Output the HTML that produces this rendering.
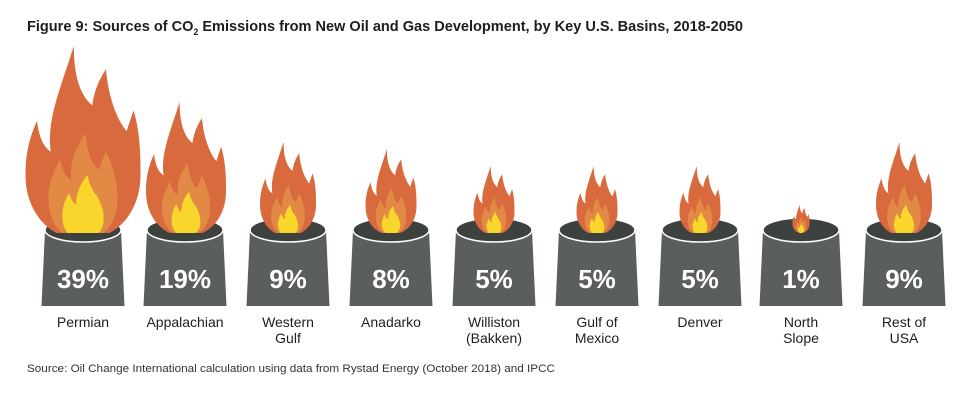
<!DOCTYPE html>
<html><head><meta charset="utf-8"><style>
html,body{margin:0;padding:0;background:#fff;}
svg{display:block;}
text{font-family:"Liberation Sans",sans-serif;}
</style></head><body>
<svg width="980" height="402" viewBox="0 0 980 402">
<defs>
<clipPath id="top"><rect x="0" y="0" width="980" height="233"/></clipPath>
<g id="flame">
<path fill="#d96a3e" d="M50,150 C20,150 0,128 0,100 C0,82 4,70 10,58 C12,72 16,78 22,82 C18,58 30,34 42,0 C42,28 50,40 58,46 C60,34 64,26 70,18 C72,40 80,58 88,66 C90,60 92,55 94,50 C100,68 100,86 100,100 C100,128 80,150 50,150 Z"/>
<path fill="#e38946" d="M50,150 C30,150 20,136 20,118 C20,104 26,96 30,88 C32,98 36,102 40,104 C38,90 44,78 52,68 C54,84 58,92 64,96 C66,90 68,86 70,82 C78,96 80,108 80,118 C80,136 70,150 50,150 Z"/>
<path fill="#f8d62b" d="M50,150 C38,150 32,142 32,132 C32,124 35,118 38,114 C40,120 42,122 44,123 C44,114 48,106 54,100 C56,110 60,114 62,116 C66,122 68,128 68,134 C68,144 60,150 50,150 Z"/>
</g>
<g id="can">
<path fill="#5a5f5c" d="M-38,230 L38,230 L41.5,306 L-41.5,306 Z"/>
<ellipse cx="0" cy="230" rx="38" ry="12" fill="#3e423f" stroke="#fff" stroke-width="1.5"/>
</g>
</defs>
<text x="27" y="31" font-size="15" font-weight="bold" fill="#1e1e1e" textLength="716" lengthAdjust="spacingAndGlyphs">Figure 9: Sources of CO<tspan font-size="9" dy="4">2</tspan><tspan dy="-4"> Emissions from New Oil and Gas Development, by Key U.S. Basins, 2018-2050</tspan></text>

<g>
<use href="#can" x="83"/><use href="#can" x="185"/><use href="#can" x="288"/><use href="#can" x="391"/><use href="#can" x="494"/><use href="#can" x="597"/><use href="#can" x="700"/><use href="#can" x="801"/><use href="#can" x="904"/>
</g>
<g clip-path="url(#top)">
<use href="#flame" transform="translate(25.5,46) scale(1.15,1.29)"/>
<use href="#flame" transform="translate(146,102) scale(0.8,0.896)"/>
<use href="#flame" transform="translate(260,142) scale(0.56,0.627)"/>
<use href="#flame" transform="translate(365.5,149) scale(0.51,0.571)"/>
<use href="#flame" transform="translate(473.5,166) scale(0.41,0.459)"/>
<use href="#flame" transform="translate(576.5,166) scale(0.41,0.459)"/>
<use href="#flame" transform="translate(679.5,166) scale(0.41,0.459)"/>
<use href="#flame" transform="translate(792.5,204.5) scale(0.17,0.19)"/>
<use href="#flame" transform="translate(876,142) scale(0.56,0.627)"/>
</g>
<g font-weight="bold" fill="#fff" font-size="26" text-anchor="middle">
<text x="83" y="288">39%</text><text x="185" y="288">19%</text><text x="288" y="288">9%</text><text x="391" y="288">8%</text><text x="494" y="288">5%</text><text x="597" y="288">5%</text><text x="700" y="288">5%</text><text x="801" y="288">1%</text><text x="904" y="288">9%</text>
</g>
<g fill="#1e1e1e" font-size="14" text-anchor="middle">
<text x="83" y="327">Permian</text>
<text x="185" y="327">Appalachian</text>
<text x="288" y="327">Western</text><text x="288" y="343">Gulf</text>
<text x="391" y="327">Anadarko</text>
<text x="494" y="327">Williston</text><text x="494" y="343">(Bakken)</text>
<text x="597" y="327">Gulf of</text><text x="597" y="343">Mexico</text>
<text x="700" y="327">Denver</text>
<text x="801" y="327">North</text><text x="801" y="343">Slope</text>
<text x="904" y="327">Rest of</text><text x="904" y="343">USA</text>
</g>
<text x="27" y="372" font-size="11" fill="#333" textLength="528" lengthAdjust="spacingAndGlyphs">Source: Oil Change International calculation using data from Rystad Energy (October 2018) and IPCC</text>
</svg>
</body></html>
